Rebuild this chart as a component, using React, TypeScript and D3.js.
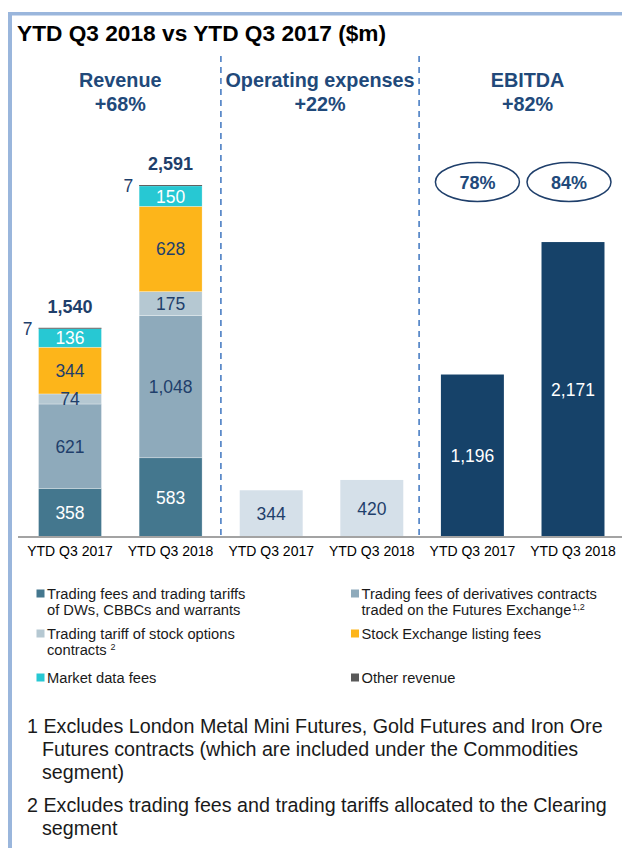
import React from "react";
import * as d3 from "d3";

// ---- data ----
const periods = ["YTD Q3 2017", "YTD Q3 2018"];
const sectionTitles = ["Revenue", "Operating expenses", "EBITDA"];
const sectionChanges = ["+68%", "+22%", "+82%"];

const revenueKeys = ["dw", "deriv", "options", "listing", "market", "other"];
const dwFees = [358, 583];
const derivFees = [621, 1048];
const optionsTariff = [74, 175];
const listingFees = [344, 628];
const marketDataFees = [136, 150];
const otherRevenue = [7, 7];
const revenueTotals = [1540, 2591];
const opexValues = [344, 420];
const ebitdaValues = [1196, 2171];
const ebitdaMargins = ["78%", "84%"];

const legendLabels = [
  ["Trading fees and trading tariffs", "of DWs, CBBCs and warrants"],
  ["Trading fees of derivatives contracts", "traded on the Futures Exchange"],
  ["Trading tariff of stock options", "contracts"],
  ["Stock Exchange listing fees"],
  ["Market data fees"],
  ["Other revenue"],
];
const legendSup = ["", "1,2", "2", "", "", ""];

const footnotes = [
  ["1 Excludes London Metal Mini Futures, Gold Futures and Iron Ore", "Futures contracts (which are included under the Commodities", "segment)"],
  ["2 Excludes trading fees and trading tariffs allocated to the Clearing", "segment"],
];

// ---- styles ----
const FONT = "'Liberation Sans', Arial, Helvetica, sans-serif";
const NAVY = "#1f3f6b";
const HEAD = "#21497a";
const revColors: Record<string, string> = {
  dw: "#44778e",
  deriv: "#8eaabb",
  options: "#b5c8d2",
  listing: "#fdb51a",
  market: "#27c8d3",
  other: "#595959",
};
const revLabelColors: Record<string, string> = {
  dw: "#ffffff",
  deriv: NAVY,
  options: NAVY,
  listing: NAVY,
  market: "#ffffff",
  other: NAVY,
};
const OPEX = "#d5e0e9";
const EBITDA = "#164269";

export default function App() {
  const W = 622;
  const H = 848;
  const axisY = 537;

  const barKeys = ["r0", "r1", "o0", "o1", "e0", "e1"];
  const x = d3
    .scaleBand<string>()
    .domain(barKeys)
    .range([19.7, 623.3])
    .paddingInner(0.374)
    .paddingOuter(0.187);
  const bw = x.bandwidth();
  const y = d3.scaleLinear().domain([0, 2591]).range([axisY, 185]);

  const revRows = periods.map((p, i) => ({
    period: p,
    dw: dwFees[i],
    deriv: derivFees[i],
    options: optionsTariff[i],
    listing: listingFees[i],
    market: marketDataFees[i],
    other: otherRevenue[i],
  }));
  const stack = d3.stack<any>().keys(revenueKeys)(revRows);

  const fmt = d3.format(",");
  const cx = (k: string) => (x(k) as number) + bw / 2;

  const div1 = ((x("r1") as number) + bw + (x("o0") as number)) / 2;
  const div2 = ((x("o1") as number) + bw + (x("e0") as number)) / 2 - 3;
  const sectionCenters = [(19.7 + div1) / 2, (div1 + div2) / 2, (div2 + 636) / 2];

  return (
    <svg
      width={W}
      height={H}
      style={{ position: "absolute", left: 0, top: 0, background: "#fff" }}
      fontFamily={FONT}
    >
      {/* frame */}
      <rect x={8} y={12} width={W - 8} height={3.5} fill="#9ab6dc" />
      <rect x={8} y={12} width={4} height={H - 12} fill="#9ab6dc" />

      {/* title */}
      <text x={17} y={41} fontSize={22.7} fontWeight="bold" fill="#000">
        YTD Q3 2018 vs YTD Q3 2017 ($m)
      </text>

      {/* section headings */}
      {sectionTitles.map((t, i) => (
        <g key={t}>
          <text x={sectionCenters[i]} y={87} textAnchor="middle" fontSize={19.8} fontWeight="bold" fill={HEAD}>
            {t}
          </text>
          <text x={sectionCenters[i]} y={111} textAnchor="middle" fontSize={19.8} fontWeight="bold" fill={HEAD}>
            {sectionChanges[i]}
          </text>
        </g>
      ))}

      {/* dividers */}
      {[div1, div2].map((dx, i) => (
        <line key={i} x1={dx} x2={dx} y1={56} y2={axisY} stroke="#4a7ec4" strokeWidth={1.6} strokeDasharray="6,5" />
      ))}

      {/* revenue stacked bars */}
      {stack.map((layer) =>
        layer.map((d, i) => {
          const k = layer.key;
          const bx = x("r" + i) as number;
          const y0 = y(d[0]);
          const y1 = y(d[1]);
          return (
            <rect key={k + i} x={bx} y={y1} width={bw} height={y0 - y1} fill={revColors[k]} stroke="#ffffff" strokeWidth={k === "other" ? 0 : 0.5} strokeOpacity={0.6} />
          );
        })
      )}
      {stack.map((layer) =>
        layer.map((d, i) => {
          const k = layer.key;
          const bx = x("r" + i) as number;
          const v = d[1] - d[0];
          if (k === "other") {
            return (
              <text key={"l" + k + i} x={bx - 6} y={y(d[1]) + 7} textAnchor="end" fontSize={17.5} fill={NAVY}>
                {fmt(v)}
              </text>
            );
          }
          const my = (y(d[0]) + y(d[1])) / 2;
          return (
            <text key={"l" + k + i} x={bx + bw / 2} y={my + 6.5} textAnchor="middle" fontSize={17.5} fill={revLabelColors[k]}>
              {fmt(v)}
            </text>
          );
        })
      )}
      {revenueTotals.map((t, i) => (
        <text key={"t" + i} x={cx("r" + i)} y={y(t) - 15} textAnchor="middle" fontSize={18} fontWeight="bold" fill={NAVY}>
          {fmt(t)}
        </text>
      ))}

      {/* opex bars */}
      {opexValues.map((v, i) => (
        <g key={"o" + i}>
          <rect x={x("o" + i)} y={y(v)} width={bw} height={axisY - y(v)} fill={OPEX} />
          <text x={cx("o" + i)} y={(y(v) + axisY) / 2 + 6.5} textAnchor="middle" fontSize={17.5} fill={NAVY}>
            {fmt(v)}
          </text>
        </g>
      ))}

      {/* EBITDA bars */}
      {ebitdaValues.map((v, i) => (
        <g key={"e" + i}>
          <rect x={x("e" + i)} y={y(v)} width={bw} height={axisY - y(v)} fill={EBITDA} />
          <text x={cx("e" + i)} y={(y(v) + axisY) / 2 + 6.5} textAnchor="middle" fontSize={17.5} fill="#ffffff">
            {fmt(v)}
          </text>
        </g>
      ))}

      {/* EBITDA margin ellipses */}
      {ebitdaMargins.map((m, i) => {
        const ex = cx("e" + i) + (i === 0 ? 5 : -4);
        return (
          <g key={"m" + i}>
            <ellipse cx={ex} cy={182} rx={42} ry={19.5} fill="#fff" stroke={NAVY} strokeWidth={1.5} />
            <text x={ex} y={188.5} textAnchor="middle" fontSize={18} fontWeight="bold" fill={HEAD}>
              {m}
            </text>
          </g>
        );
      })}

      {/* axis */}
      <line x1={18} x2={W} y1={axisY} y2={axisY} stroke="#a3a3a3" strokeWidth={2} />
      {barKeys.map((k, i) => (
        <text key={"c" + k} x={cx(k)} y={556} textAnchor="middle" fontSize={14} fill="#000">
          {periods[i % 2]}
        </text>
      ))}

      {/* legend */}
      {revenueKeys.map((k, i) => {
        const col = i % 2;
        const lx = col === 0 ? 36.5 : 351;
        const rowBase = [599, 639, 683][Math.floor(i / 2)];
        const lines = legendLabels[i];
        return (
          <g key={"lg" + k}>
            <rect x={lx} y={rowBase - 9.5} width={8} height={8} fill={revColors[k]} />
            {lines.map((ln, j) => (
              <text key={j} x={lx + 10.5} y={rowBase + j * 16} fontSize={14.7} fill="#1a1a1a">
                {ln}
                {j === lines.length - 1 && legendSup[i] ? (
                  <tspan dx={i === 2 ? 4 : 1} dy={-5} fontSize={9}>
                    {legendSup[i]}
                  </tspan>
                ) : null}
              </text>
            ))}
          </g>
        );
      })}

      {/* footnotes */}
      {footnotes.map((fn, i) => {
        const base = [733, 812][i];
        return (
          <g key={"fn" + i}>
            {fn.map((ln, j) => (
              <text key={j} x={j === 0 ? 27 : 42} y={base + j * 23} fontSize={19.7} fill="#1a1a1a">
                {ln}
              </text>
            ))}
          </g>
        );
      })}
    </svg>
  );
}
